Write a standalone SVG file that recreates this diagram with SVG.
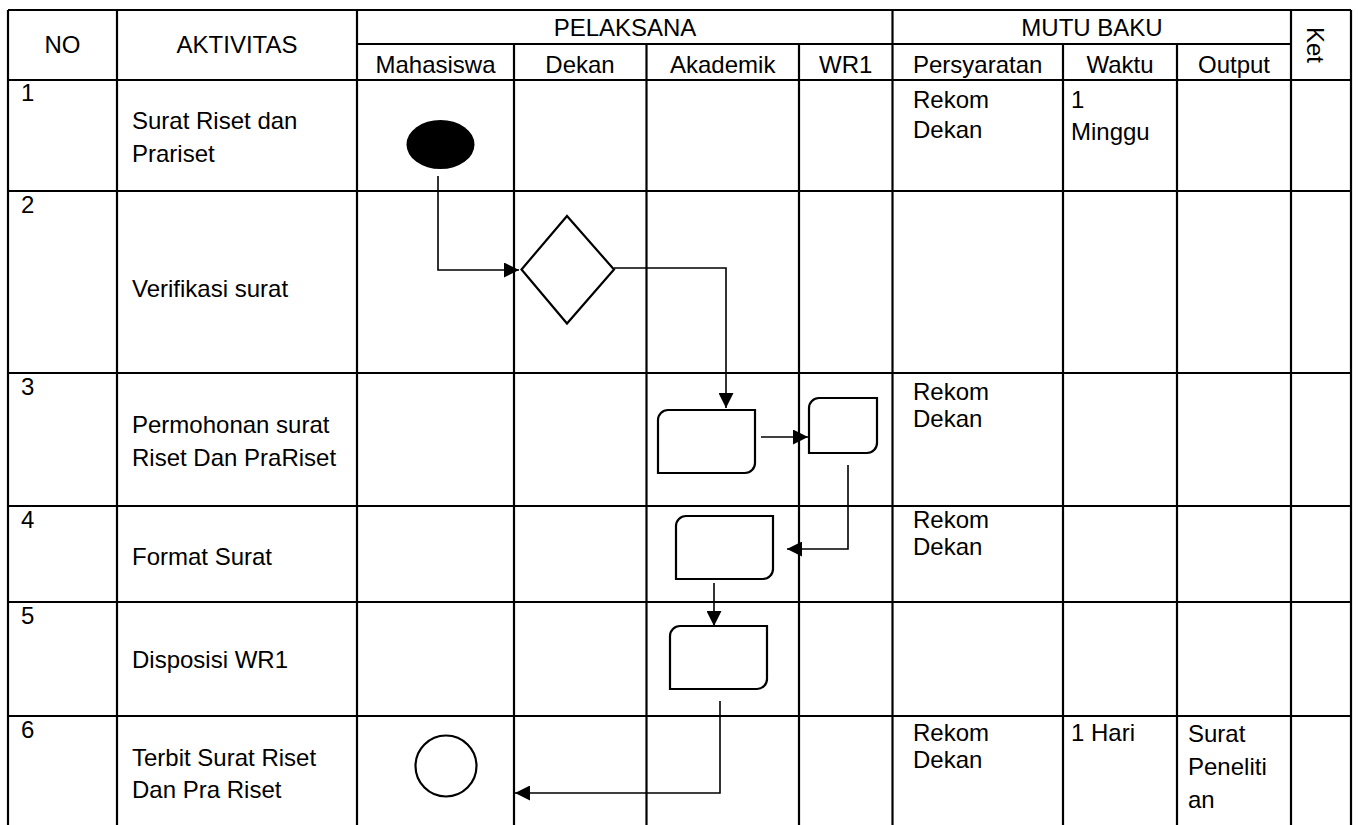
<svg xmlns="http://www.w3.org/2000/svg" width="1358" height="825" viewBox="0 0 1358 825">
<style>
text{font-family:"Liberation Sans",Arial,sans-serif;font-size:24px;fill:#000}
.c{text-anchor:middle}
.grid line{stroke:#000;stroke-width:2.2}
.shape{fill:#fff;stroke:#000;stroke-width:2.2}
.conn{fill:none;stroke:#000;stroke-width:1.6}
</style>
<defs>
<marker id="arr" viewBox="0 0 10 10" refX="10" refY="5" markerUnits="userSpaceOnUse" markerWidth="15" markerHeight="15" orient="auto"><path d="M0,0 L10,5 L0,10 Z" fill="#000"/></marker>
</defs>
<rect width="1358" height="825" fill="#fff"/>
<g id="grid" class="grid">
<line x1="8" y1="10" x2="1351" y2="10"/>
<line x1="357" y1="44" x2="1291" y2="44"/>
<line x1="8" y1="80" x2="1351" y2="80"/>
<line x1="8" y1="191" x2="1351" y2="191"/>
<line x1="8" y1="373" x2="1351" y2="373"/>
<line x1="8" y1="506" x2="1351" y2="506"/>
<line x1="8" y1="602" x2="1351" y2="602"/>
<line x1="8" y1="716" x2="1351" y2="716"/>
<line x1="8" y1="10" x2="8" y2="825"/>
<line x1="117" y1="10" x2="117" y2="825"/>
<line x1="357" y1="10" x2="357" y2="825"/>
<line x1="514" y1="44" x2="514" y2="825"/>
<line x1="646.5" y1="44" x2="646.5" y2="825"/>
<line x1="799" y1="44" x2="799" y2="825"/>
<line x1="892.5" y1="10" x2="892.5" y2="825"/>
<line x1="1063" y1="44" x2="1063" y2="825"/>
<line x1="1177" y1="44" x2="1177" y2="825"/>
<line x1="1291" y1="10" x2="1291" y2="825"/>
<line x1="1351" y1="10" x2="1351" y2="825"/>
</g>
<g id="header">
<text class="c" x="62.5" y="53">NO</text>
<text class="c" x="237" y="53">AKTIVITAS</text>
<text class="c" x="625" y="36">PELAKSANA</text>
<text class="c" x="1092" y="36">MUTU BAKU</text>
<text transform="translate(1307,27) rotate(90)">Ket</text>
<text class="c" x="435.5" y="73">Mahasiswa</text>
<text class="c" x="580" y="73">Dekan</text>
<text class="c" x="722.7" y="73">Akademik</text>
<text class="c" x="845.7" y="73">WR1</text>
<text class="c" x="977.7" y="73">Persyaratan</text>
<text class="c" x="1120" y="73">Waktu</text>
<text class="c" x="1234" y="73">Output</text>
</g>
<g id="rows">
<text x="21" y="101">1</text>
<text x="132" y="129">Surat Riset dan</text>
<text x="132" y="162">Prariset</text>
<text x="21" y="213">2</text>
<text x="132" y="297">Verifikasi surat</text>
<text x="21" y="395">3</text>
<text x="132" y="433">Permohonan surat</text>
<text x="132" y="466">Riset Dan PraRiset</text>
<text x="21" y="528">4</text>
<text x="132" y="565">Format Surat</text>
<text x="21" y="624">5</text>
<text x="132" y="668">Disposisi WR1</text>
<text x="21" y="738">6</text>
<text x="132" y="766">Terbit Surat Riset</text>
<text x="132" y="798">Dan Pra Riset</text>
</g>
<g id="mutu">
<text x="913" y="108">Rekom</text>
<text x="913" y="138">Dekan</text>
<text x="1071" y="108">1</text>
<text x="1071" y="140">Minggu</text>
<text x="913" y="400">Rekom</text>
<text x="913" y="427">Dekan</text>
<text x="913" y="528">Rekom</text>
<text x="913" y="555">Dekan</text>
<text x="913" y="741">Rekom</text>
<text x="913" y="768">Dekan</text>
<text x="1071" y="741">1 Hari</text>
<text x="1188" y="742">Surat</text>
<text x="1188" y="775">Peneliti</text>
<text x="1188" y="808">an</text>
</g>
<g id="node-start"><ellipse cx="440.5" cy="144.5" rx="34" ry="24.5" fill="#000"/></g>
<g id="node-verify"><path class="shape" d="M567,216 L614,269.5 L567,323.5 L521.5,269.5 Z"/></g>
<g id="node-akademik1"><path class="shape" d="M658,420 A10,10 0 0 1 668,410 H755 V463 A10,10 0 0 1 745,473 H658 Z"/></g>
<g id="node-wr1"><path class="shape" d="M809,408 A10,10 0 0 1 819,398 H877 V443 A10,10 0 0 1 867,453 H809 Z"/></g>
<g id="node-format"><path class="shape" d="M676,526 A10,10 0 0 1 686,516 H773 V569 A10,10 0 0 1 763,579 H676 Z"/></g>
<g id="node-disposisi"><path class="shape" d="M670,636 A10,10 0 0 1 680,626 H767 V679 A10,10 0 0 1 757,689 H670 Z"/></g>
<g id="node-end"><circle class="shape" cx="446" cy="766" r="30.5"/></g>
<g id="connectors" class="conn">
<path d="M438,176 V270 H519" marker-end="url(#arr)"/>
<path d="M614,268 H726 V408" marker-end="url(#arr)"/>
<path d="M761,437 H808" marker-end="url(#arr)"/>
<path d="M848,465 V549 H787" marker-end="url(#arr)"/>
<path d="M714,583 V626" marker-end="url(#arr)"/>
<path d="M720,701 V793 H515" marker-end="url(#arr)"/>
</g>
</svg>
